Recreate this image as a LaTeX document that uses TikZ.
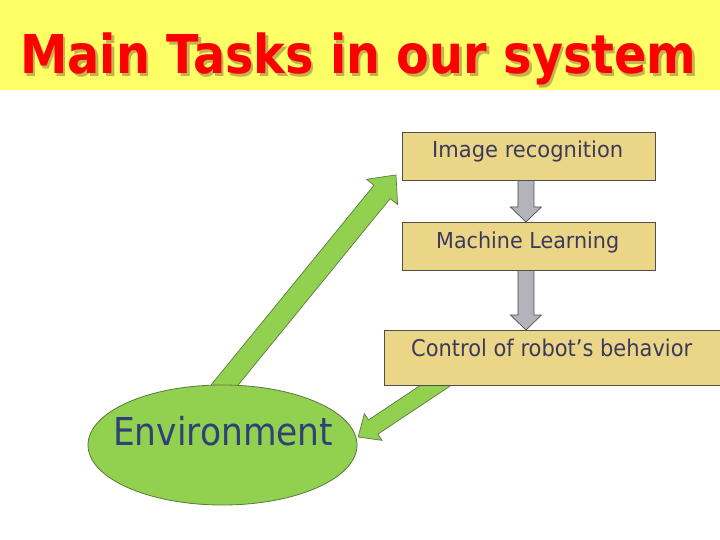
\documentclass[tikz,border=0pt]{standalone}
\usepackage{fontspec}
\setmainfont{DejaVu Sans}
\usepackage{graphicx}
\usetikzlibrary{calc,shapes.geometric}
\definecolor{bandyellow}{HTML}{FFFF66}
\definecolor{titlered}{HTML}{FF0000}
\definecolor{titleshadow}{HTML}{C4B24E}
\definecolor{boxfill}{HTML}{EBD688}
\definecolor{boxline}{HTML}{4F4F4F}
\definecolor{boxtext}{HTML}{3C3A5C}
\definecolor{greenfill}{HTML}{92D050}
\definecolor{greenline}{HTML}{5B7A40}
\definecolor{grayfill}{HTML}{B3B3BB}
\definecolor{envtext}{HTML}{2E4275}
\newcommand{\fitbox}[3]{\resizebox{#1}{#2}{#3}}
\newcommand{\titletext}{\fitbox{676pt}{40.7pt}{\bfseries Main Tasks in our system}}
% block arrow: start, tip, shaft half width, head half width, head length, style
\newcommand{\blockarrow}[6]{%
  \draw[#6] ($(#1)!#3!90:(#2)$) -- ($($(#2)!#5!(#1)$)!#3!-90:(#1)$)
    -- ($($(#2)!#5!(#1)$)!#4!-90:(#1)$) -- (#2)
    -- ($($(#2)!#5!(#1)$)!#4!90:(#1)$) -- ($($(#2)!#5!(#1)$)!#3!90:(#1)$)
    -- ($(#1)!#3!-90:(#2)$) -- cycle;}
\tikzset{
  boxnode/.style={draw=boxline, line width=0.9pt, fill=boxfill, inner sep=0pt, anchor=north west},
  boxtxt/.style={anchor=base west, inner sep=0pt, text=boxtext, font=\fontsize{22}{26}\selectfont},
  greenarrow/.style={fill=greenfill, draw=greenline, line width=0.7pt, line join=miter},
  grayarrow/.style={fill=grayfill, draw=boxline, line width=0.7pt, line join=miter},
}
\begin{document}
\begin{tikzpicture}[x=1pt,y=-1pt]
\useasboundingbox (0,0) rectangle (720,540);
\fill[white] (0,0) rectangle (720,540);
\node[fill=bandyellow, minimum width=720pt, minimum height=90pt, inner sep=0pt, anchor=north west] (band) at (0,0) {};
\node[anchor=base west, inner sep=0pt, text=titlered] (title) at (20,74)
  {\makebox[0pt][l]{\hspace*{2.5pt}\raisebox{-2.5pt}{\textcolor{titleshadow}{\titletext}}}\titletext};

% coordinates of boxes (drawn after arrows)
\coordinate (b1nw) at (402,132);
\coordinate (b2nw) at (402,222);
\coordinate (b3nw) at (384,330);
\path (b1nw) node[boxnode, draw=none, fill=none, minimum width=253pt, minimum height=48pt] (b1) {};
\path (b2nw) node[boxnode, draw=none, fill=none, minimum width=253pt, minimum height=48pt] (b2) {};
\path (b3nw) node[boxnode, draw=none, fill=none, minimum width=340pt, minimum height=55pt] (b3) {};
\node[ellipse, fill=greenfill, draw=none, minimum width=269pt, minimum height=120pt, inner sep=0pt] (envbg) at (222.5,445) {};

% arrows
\coordinate (ga1s) at ($(b1.south)+(-3,-1)$);
\coordinate (ga1e) at ($(b2.north)+(-3,0)$);
\blockarrow{ga1s}{ga1e}{8pt}{15.5pt}{15pt}{grayarrow}
\coordinate (ga2s) at ($(b2.south)+(-3,-1)$);
\coordinate (ga2e) at (ga2s |- b3.north);
\blockarrow{ga2s}{ga2e}{8pt}{15.5pt}{15pt}{grayarrow}

\coordinate (up1) at ($(envbg.north)+(-10,15)$);
\coordinate (up2) at ($(b1.south west)+(-6,-6)$);
\blockarrow{up1}{up2}{10.5pt}{20pt}{22pt}{greenarrow}
\coordinate (dn1) at ($(b3.south west)+(66,-10)$);
\coordinate (dn2) at ($(envbg.east)+(1,-8)$);
\blockarrow{dn1}{dn2}{8.5pt}{16pt}{18pt}{greenarrow}

% boxes
\node[boxnode, minimum width=253pt, minimum height=48pt] (box1) at (b1nw) {};
\node[boxnode, minimum width=253pt, minimum height=48pt] (box2) at (b2nw) {};
\node[boxnode, minimum width=340pt, minimum height=55pt] (box3) at (b3nw) {};
\node[boxtxt] (t1) at (432,158) {\fitbox{191pt}{16.7pt}{Image recognition}};
\node[boxtxt] (t2) at (436,248) {\fitbox{183pt}{16.7pt}{Machine Learning}};
\node[boxtxt] (t3) at (411,356) {\fitbox{281pt}{17.5pt}{Control of robot’s behavior}};

% environment
\node[ellipse, fill=greenfill, draw=greenline, line width=0.8pt, minimum width=269pt, minimum height=120pt, inner sep=0pt] (env) at (222.5,445) {};
\node[anchor=base west, inner sep=0pt, text=envtext] (envtxt) at (113,445) {\fitbox{220pt}{29.2pt}{Environment}};
\end{tikzpicture}
\end{document}
